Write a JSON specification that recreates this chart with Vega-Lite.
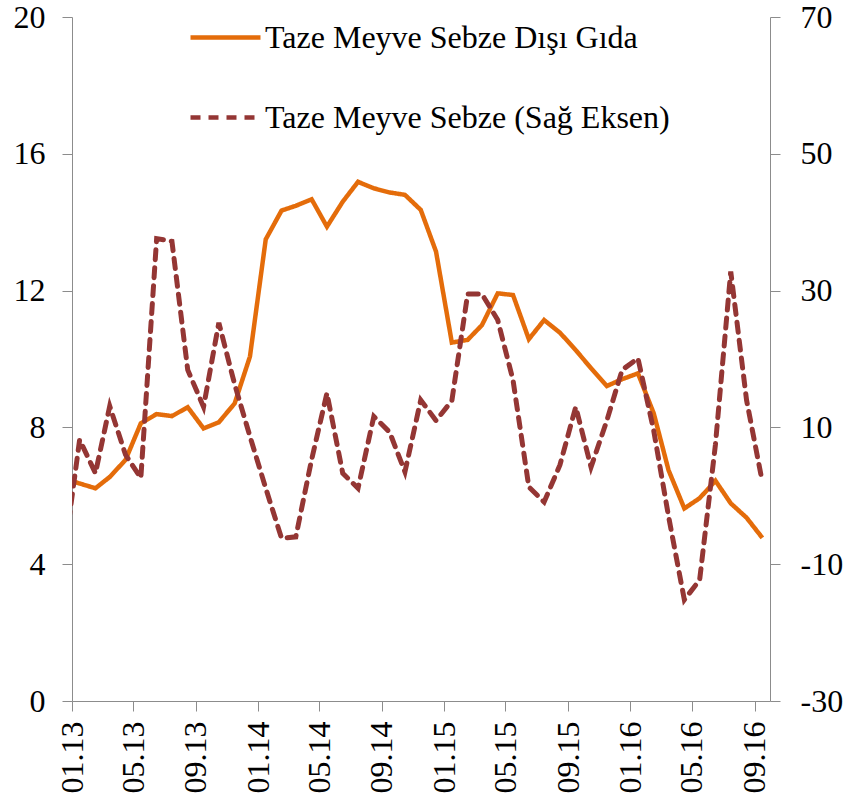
{
  "$schema": "https://vega.github.io/schema/vega-lite/v6.json",
  "width": 698,
  "height": 684,
  "autosize": {"type": "none"},
  "padding": {"left": 72, "top": 17, "right": 76, "bottom": 100},
  "background": "white",
  "config": {
    "view": {"stroke": null},
    "font": "Liberation Serif",
    "axis": {
      "grid": false,
      "domainColor": "#8c8c8c",
      "tickColor": "#8c8c8c",
      "tickSize": 10,
      "labelFont": "Liberation Serif",
      "labelFontSize": 32,
      "labelColor": "#000000",
      "title": null
    }
  },
  "data": {
    "values": [
      {"d": "2012-12-16", "s": "Taze Meyve Sebze Dışı Gıda", "v": 6.5},
      {"d": "2013-01-16", "s": "Taze Meyve Sebze Dışı Gıda", "v": 6.36},
      {"d": "2013-02-16", "s": "Taze Meyve Sebze Dışı Gıda", "v": 6.22},
      {"d": "2013-03-16", "s": "Taze Meyve Sebze Dışı Gıda", "v": 6.55},
      {"d": "2013-04-16", "s": "Taze Meyve Sebze Dışı Gıda", "v": 7.05},
      {"d": "2013-05-16", "s": "Taze Meyve Sebze Dışı Gıda", "v": 8.12},
      {"d": "2013-06-16", "s": "Taze Meyve Sebze Dışı Gıda", "v": 8.39},
      {"d": "2013-07-16", "s": "Taze Meyve Sebze Dışı Gıda", "v": 8.33},
      {"d": "2013-08-16", "s": "Taze Meyve Sebze Dışı Gıda", "v": 8.59},
      {"d": "2013-09-16", "s": "Taze Meyve Sebze Dışı Gıda", "v": 7.97},
      {"d": "2013-10-16", "s": "Taze Meyve Sebze Dışı Gıda", "v": 8.15},
      {"d": "2013-11-16", "s": "Taze Meyve Sebze Dışı Gıda", "v": 8.7},
      {"d": "2013-12-16", "s": "Taze Meyve Sebze Dışı Gıda", "v": 10.07},
      {"d": "2014-01-16", "s": "Taze Meyve Sebze Dışı Gıda", "v": 13.5},
      {"d": "2014-02-16", "s": "Taze Meyve Sebze Dışı Gıda", "v": 14.34},
      {"d": "2014-03-16", "s": "Taze Meyve Sebze Dışı Gıda", "v": 14.48},
      {"d": "2014-04-16", "s": "Taze Meyve Sebze Dışı Gıda", "v": 14.67},
      {"d": "2014-05-16", "s": "Taze Meyve Sebze Dışı Gıda", "v": 13.87},
      {"d": "2014-06-16", "s": "Taze Meyve Sebze Dışı Gıda", "v": 14.6},
      {"d": "2014-07-16", "s": "Taze Meyve Sebze Dışı Gıda", "v": 15.18},
      {"d": "2014-08-16", "s": "Taze Meyve Sebze Dışı Gıda", "v": 14.99},
      {"d": "2014-09-16", "s": "Taze Meyve Sebze Dışı Gıda", "v": 14.87},
      {"d": "2014-10-16", "s": "Taze Meyve Sebze Dışı Gıda", "v": 14.8},
      {"d": "2014-11-16", "s": "Taze Meyve Sebze Dışı Gıda", "v": 14.36},
      {"d": "2014-12-16", "s": "Taze Meyve Sebze Dışı Gıda", "v": 13.14},
      {"d": "2015-01-16", "s": "Taze Meyve Sebze Dışı Gıda", "v": 10.48},
      {"d": "2015-02-16", "s": "Taze Meyve Sebze Dışı Gıda", "v": 10.56},
      {"d": "2015-03-16", "s": "Taze Meyve Sebze Dışı Gıda", "v": 10.99},
      {"d": "2015-04-16", "s": "Taze Meyve Sebze Dışı Gıda", "v": 11.92},
      {"d": "2015-05-16", "s": "Taze Meyve Sebze Dışı Gıda", "v": 11.87},
      {"d": "2015-06-16", "s": "Taze Meyve Sebze Dışı Gıda", "v": 10.58},
      {"d": "2015-07-16", "s": "Taze Meyve Sebze Dışı Gıda", "v": 11.14},
      {"d": "2015-08-16", "s": "Taze Meyve Sebze Dışı Gıda", "v": 10.77},
      {"d": "2015-09-16", "s": "Taze Meyve Sebze Dışı Gıda", "v": 10.26},
      {"d": "2015-10-16", "s": "Taze Meyve Sebze Dışı Gıda", "v": 9.73},
      {"d": "2015-11-16", "s": "Taze Meyve Sebze Dışı Gıda", "v": 9.21},
      {"d": "2015-12-16", "s": "Taze Meyve Sebze Dışı Gıda", "v": 9.41},
      {"d": "2016-01-16", "s": "Taze Meyve Sebze Dışı Gıda", "v": 9.58},
      {"d": "2016-02-16", "s": "Taze Meyve Sebze Dışı Gıda", "v": 8.41},
      {"d": "2016-03-16", "s": "Taze Meyve Sebze Dışı Gıda", "v": 6.75},
      {"d": "2016-04-16", "s": "Taze Meyve Sebze Dışı Gıda", "v": 5.63},
      {"d": "2016-05-16", "s": "Taze Meyve Sebze Dışı Gıda", "v": 5.93},
      {"d": "2016-06-16", "s": "Taze Meyve Sebze Dışı Gıda", "v": 6.44},
      {"d": "2016-07-16", "s": "Taze Meyve Sebze Dışı Gıda", "v": 5.78},
      {"d": "2016-08-16", "s": "Taze Meyve Sebze Dışı Gıda", "v": 5.36},
      {"d": "2016-09-16", "s": "Taze Meyve Sebze Dışı Gıda", "v": 4.77},
      {"d": "2012-12-16", "s": "Taze Meyve Sebze (Sağ Eksen)", "v": -9},
      {"d": "2013-01-16", "s": "Taze Meyve Sebze (Sağ Eksen)", "v": 8.2},
      {"d": "2013-02-16", "s": "Taze Meyve Sebze (Sağ Eksen)", "v": 3.3},
      {"d": "2013-03-16", "s": "Taze Meyve Sebze (Sağ Eksen)", "v": 13.1},
      {"d": "2013-04-16", "s": "Taze Meyve Sebze (Sağ Eksen)", "v": 6.0},
      {"d": "2013-05-16", "s": "Taze Meyve Sebze (Sağ Eksen)", "v": 2.6},
      {"d": "2013-06-16", "s": "Taze Meyve Sebze (Sağ Eksen)", "v": 37.6},
      {"d": "2013-07-16", "s": "Taze Meyve Sebze (Sağ Eksen)", "v": 37.2},
      {"d": "2013-08-16", "s": "Taze Meyve Sebze (Sağ Eksen)", "v": 18.4},
      {"d": "2013-09-16", "s": "Taze Meyve Sebze (Sağ Eksen)", "v": 13.0},
      {"d": "2013-10-16", "s": "Taze Meyve Sebze (Sağ Eksen)", "v": 25.3},
      {"d": "2013-11-16", "s": "Taze Meyve Sebze (Sağ Eksen)", "v": 16.3},
      {"d": "2013-12-16", "s": "Taze Meyve Sebze (Sağ Eksen)", "v": 8.7},
      {"d": "2014-01-16", "s": "Taze Meyve Sebze (Sağ Eksen)", "v": 1.1},
      {"d": "2014-02-16", "s": "Taze Meyve Sebze (Sağ Eksen)", "v": -6.2},
      {"d": "2014-03-16", "s": "Taze Meyve Sebze (Sağ Eksen)", "v": -6.0},
      {"d": "2014-04-16", "s": "Taze Meyve Sebze (Sağ Eksen)", "v": 5.3},
      {"d": "2014-05-16", "s": "Taze Meyve Sebze (Sağ Eksen)", "v": 15.0},
      {"d": "2014-06-16", "s": "Taze Meyve Sebze (Sağ Eksen)", "v": 3.3},
      {"d": "2014-07-16", "s": "Taze Meyve Sebze (Sağ Eksen)", "v": 1.1},
      {"d": "2014-08-16", "s": "Taze Meyve Sebze (Sağ Eksen)", "v": 11.6},
      {"d": "2014-09-16", "s": "Taze Meyve Sebze (Sağ Eksen)", "v": 9.3},
      {"d": "2014-10-16", "s": "Taze Meyve Sebze (Sağ Eksen)", "v": 3.5},
      {"d": "2014-11-16", "s": "Taze Meyve Sebze (Sağ Eksen)", "v": 14.0},
      {"d": "2014-12-16", "s": "Taze Meyve Sebze (Sağ Eksen)", "v": 11.0},
      {"d": "2015-01-16", "s": "Taze Meyve Sebze (Sağ Eksen)", "v": 13.9},
      {"d": "2015-02-16", "s": "Taze Meyve Sebze (Sağ Eksen)", "v": 29.5},
      {"d": "2015-03-16", "s": "Taze Meyve Sebze (Sağ Eksen)", "v": 29.5},
      {"d": "2015-04-16", "s": "Taze Meyve Sebze (Sağ Eksen)", "v": 25.7},
      {"d": "2015-05-16", "s": "Taze Meyve Sebze (Sağ Eksen)", "v": 16.9},
      {"d": "2015-06-16", "s": "Taze Meyve Sebze (Sağ Eksen)", "v": 1.3},
      {"d": "2015-07-16", "s": "Taze Meyve Sebze (Sağ Eksen)", "v": -0.9},
      {"d": "2015-08-16", "s": "Taze Meyve Sebze (Sağ Eksen)", "v": 4.5},
      {"d": "2015-09-16", "s": "Taze Meyve Sebze (Sağ Eksen)", "v": 13.0},
      {"d": "2015-10-16", "s": "Taze Meyve Sebze (Sağ Eksen)", "v": 4.2},
      {"d": "2015-11-16", "s": "Taze Meyve Sebze (Sağ Eksen)", "v": 11.0},
      {"d": "2015-12-16", "s": "Taze Meyve Sebze (Sağ Eksen)", "v": 18.4},
      {"d": "2016-01-16", "s": "Taze Meyve Sebze (Sağ Eksen)", "v": 20.1},
      {"d": "2016-02-16", "s": "Taze Meyve Sebze (Sağ Eksen)", "v": 9.5},
      {"d": "2016-03-16", "s": "Taze Meyve Sebze (Sağ Eksen)", "v": -3.0},
      {"d": "2016-04-16", "s": "Taze Meyve Sebze (Sağ Eksen)", "v": -15.2},
      {"d": "2016-05-16", "s": "Taze Meyve Sebze (Sağ Eksen)", "v": -12.3},
      {"d": "2016-06-16", "s": "Taze Meyve Sebze (Sağ Eksen)", "v": 7.5},
      {"d": "2016-07-16", "s": "Taze Meyve Sebze (Sağ Eksen)", "v": 32.8},
      {"d": "2016-08-16", "s": "Taze Meyve Sebze (Sağ Eksen)", "v": 14.0},
      {"d": "2016-09-16", "s": "Taze Meyve Sebze (Sağ Eksen)", "v": 2.0}
    ]
  },
  "encoding": {
    "x": {
      "field": "d",
      "type": "temporal",
      "scale": {
        "type": "utc",
        "domain": [
          {"year": 2013, "month": 1, "date": 1, "utc": true},
          {"year": 2016, "month": 10, "date": 1, "utc": true}
        ]
      },
      "axis": {
        "values": [
          {"year": 2013, "month": 1, "date": 1, "utc": true},
          {"year": 2013, "month": 5, "date": 1, "utc": true},
          {"year": 2013, "month": 9, "date": 1, "utc": true},
          {"year": 2014, "month": 1, "date": 1, "utc": true},
          {"year": 2014, "month": 5, "date": 1, "utc": true},
          {"year": 2014, "month": 9, "date": 1, "utc": true},
          {"year": 2015, "month": 1, "date": 1, "utc": true},
          {"year": 2015, "month": 5, "date": 1, "utc": true},
          {"year": 2015, "month": 9, "date": 1, "utc": true},
          {"year": 2016, "month": 1, "date": 1, "utc": true},
          {"year": 2016, "month": 5, "date": 1, "utc": true},
          {"year": 2016, "month": 9, "date": 1, "utc": true}
        ],
        "format": "%m.%y",
        "labelAngle": -90,
        "labelPadding": 10,
        "labelBound": false,
        "labelOverlap": false,
        "labelFlush": false
      }
    },
    "color": {
      "field": "s",
      "type": "nominal",
      "scale": {
        "domain": ["Taze Meyve Sebze Dışı Gıda", "Taze Meyve Sebze (Sağ Eksen)"],
        "range": ["#E46C0A", "#943634"]
      },
      "legend": {
        "title": null,
        "orient": "none",
        "legendX": 116,
        "legendY": -17,
        "direction": "vertical",
        "symbolType": "stroke",
        "symbolSize": 4900,
        "symbolStrokeWidth": 4.5,
        "labelFont": "Liberation Serif",
        "labelFontSize": 32,
        "labelColor": "#000000",
        "labelOffset": 2,
        "rowPadding": 26,
        "labelLimit": 600,
        "padding": 0
      }
    },
    "strokeDash": {
      "field": "s",
      "type": "nominal",
      "scale": {
        "domain": ["Taze Meyve Sebze Dışı Gıda", "Taze Meyve Sebze (Sağ Eksen)"],
        "range": [[1, 0], [10, 8]]
      },
      "legend": {
        "title": null,
        "orient": "none",
        "legendX": 116,
        "legendY": -17,
        "direction": "vertical",
        "symbolType": "stroke",
        "symbolSize": 4900,
        "symbolStrokeWidth": 4.5,
        "labelFont": "Liberation Serif",
        "labelFontSize": 32,
        "labelColor": "#000000",
        "labelOffset": 2,
        "rowPadding": 26,
        "labelLimit": 600,
        "padding": 0
      }
    }
  },
  "layer": [
    {
      "transform": [{"filter": {"field": "s", "equal": "Taze Meyve Sebze Dışı Gıda"}}],
      "mark": {"type": "line", "strokeWidth": 4.5, "clip": true, "strokeJoin": "miter"},
      "encoding": {
        "y": {
          "field": "v",
          "type": "quantitative",
          "scale": {"domain": [0, 20], "nice": false, "zero": false},
          "axis": {"orient": "left", "values": [0, 4, 8, 12, 16, 20], "labelPadding": 17, "labelExpr": "datum.value + ''"}
        }
      }
    },
    {
      "transform": [{"filter": {"field": "s", "equal": "Taze Meyve Sebze (Sağ Eksen)"}}],
      "mark": {"type": "line", "strokeWidth": 5, "clip": true, "strokeCap": "round"},
      "encoding": {
        "y": {
          "field": "v",
          "type": "quantitative",
          "scale": {"domain": [-30, 70], "nice": false, "zero": false},
          "axis": {"orient": "right", "values": [-30, -10, 10, 30, 50, 70], "labelPadding": 20, "labelExpr": "datum.value + ''"}
        }
      }
    }
  ],
  "resolve": {"scale": {"y": "independent"}, "axis": {"y": "independent"}}
}
